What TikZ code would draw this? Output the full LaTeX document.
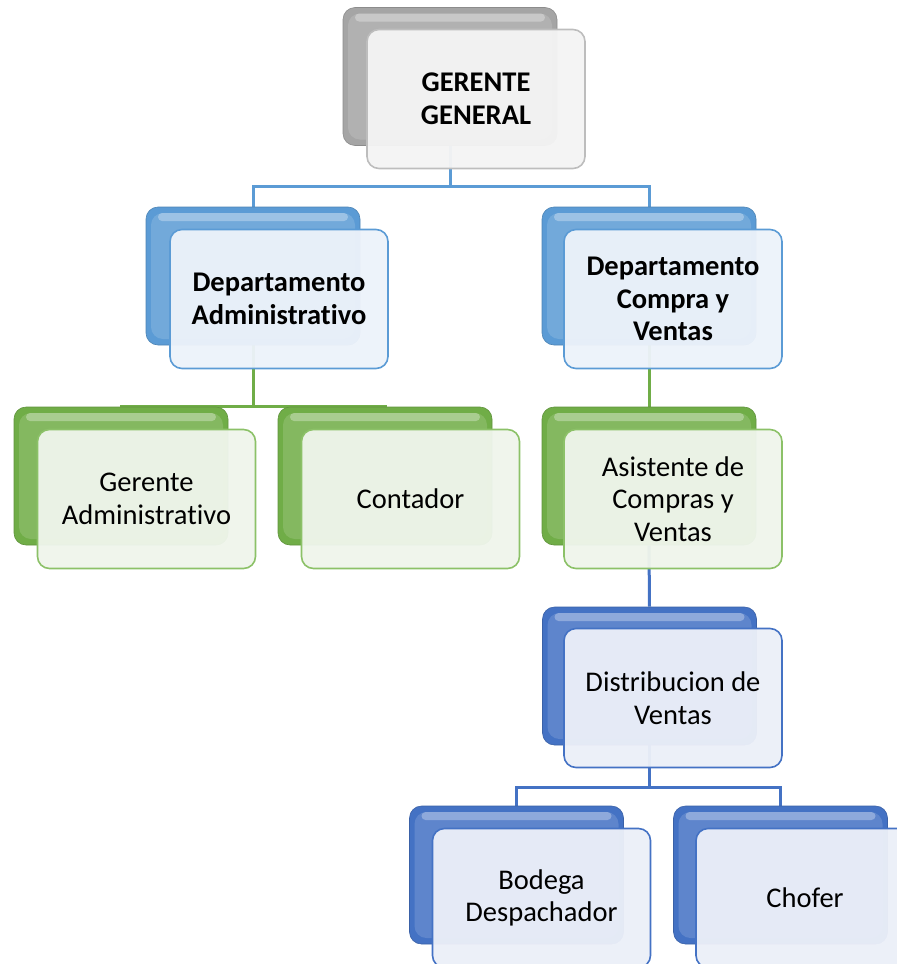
\documentclass[tikz,border=0pt]{standalone}
\usepackage{fontspec}
\setmainfont{Carlito}[Ligatures=NoCommon]
\pgfdeclarelayer{bg}
\pgfsetlayers{bg,main}
\definecolor{grayB}{HTML}{A5A5A5}
\definecolor{grayF}{HTML}{F4F4F4}
\definecolor{grayL}{HTML}{BDBDBD}
\definecolor{blueB}{HTML}{5B9BD5}
\definecolor{blueF}{HTML}{ECF2FA}
\definecolor{greenB}{HTML}{70AD47}
\definecolor{greenF}{HTML}{EFF5EB}
\definecolor{greenL}{HTML}{8CC168}
\definecolor{dblueB}{HTML}{4472C4}
\definecolor{dblueF}{HTML}{EBEFF8}
\tikzset{
  backbox/.style={rectangle, rounded corners=12pt, minimum width=214pt, minimum height=138pt,
    fill=#1, draw=#1!85!black, line width=0.6pt,
    path picture={
      \fill[white, opacity=0.14]
        ([xshift=5pt,yshift=-6pt]path picture bounding box.north west) rectangle
        ([xshift=-5pt,yshift=6pt]path picture bounding box.south east);
      \fill[white, opacity=0.3, rounded corners=4pt]
        ([xshift=12pt,yshift=-6pt]path picture bounding box.north west) rectangle
        ([xshift=-12pt,yshift=-14pt]path picture bounding box.north east);
    }},
  frontbox/.style n args={2}{rectangle, rounded corners=12pt, minimum width=218pt, minimum height=139pt,
    fill=#1, fill opacity=0.96, text opacity=1, draw=#2, line width=1.6pt, align=center,
    font=\fontsize{28.5}{32.5}\selectfont, text=black},
  conn/.style={line width=3pt, draw=#1},
}
\begin{document}
\begin{tikzpicture}[x=1pt, y=-1pt]
\useasboundingbox (0,0) rectangle (897,964);
\clip (0,0) rectangle (897,964);
% back boxes
\node[backbox=grayB]  (ggb) at (450,76.5) {};
\node[backbox=blueB]  (dab) at (253,276) {};
\node[backbox=blueB]  (dcb) at (649,276) {};
\node[backbox=greenB] (gab) at (121,476) {};
\node[backbox=greenB] (cob) at (385,476) {};
\node[backbox=greenB] (asb) at (649,476) {};
\node[backbox=dblueB] (dib) at (649.5,676) {};
\node[backbox=dblueB] (bob) at (516.5,875) {};
\node[backbox=dblueB] (chb) at (780.5,875) {};
% front boxes
\node[frontbox={grayF}{grayL}] (gg) at (476,99) {\textbf{GERENTE}\\\textbf{GENERAL}};
\node[frontbox={blueF}{blueB}] (da) at (279,299) {\textbf{Departamento}\\\textbf{Administrativo}};
\node[frontbox={blueF}{blueB}] (dc) at (673,299) {\textbf{Departamento}\\\textbf{Compra y}\\\textbf{Ventas}};
\node[frontbox={greenF}{greenL}] (ga) at (146.5,499) {Gerente\\Administrativo};
\node[frontbox={greenF}{greenL}] (co) at (410.5,499) {Contador};
\node[frontbox={greenF}{greenL}] (as) at (673,499) {Asistente de\\Compras y\\Ventas};
\node[frontbox={dblueF}{dblueB}] (di) at (673,698) {Distribucion de\\Ventas};
\node[frontbox={dblueF}{dblueB}] (bo) at (541.5,898) {Bodega\\Despachador};
\node[frontbox={dblueF}{dblueB}] (ch) at (805,898) {Chofer};
% connectors
\begin{pgfonlayer}{bg}
\coordinate (bus1) at (450,186);
\coordinate (bus2) at (253,406);
\coordinate (bus3) at (649.5,787);
\draw[conn=blueB] (ggb.south) -- (bus1) -| (dab.north);
\draw[conn=blueB] (bus1) -| (dcb.north);
\draw[conn=greenB] (dab.south) -- (bus2) -| (gab.north);
\draw[conn=greenB] (bus2) -| (cob.north);
\draw[conn=greenB] (dcb.south) -- (asb.north);
\draw[conn=dblueB] (asb.south) -- (dib.north);
\draw[conn=dblueB] (dib.south) -- (bus3) -| (bob.north);
\draw[conn=dblueB] (bus3) -| (chb.north);
\end{pgfonlayer}
\end{tikzpicture}
\end{document}
